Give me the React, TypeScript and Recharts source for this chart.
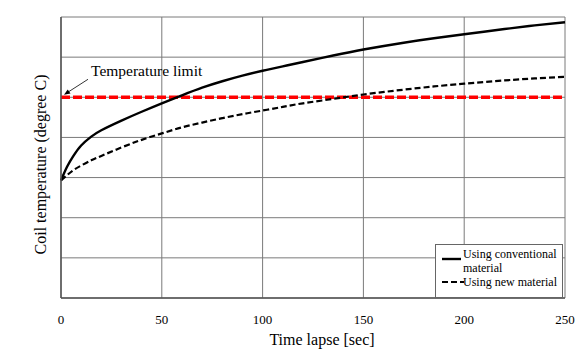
import React from "react";
import { LineChart, Line, XAxis, YAxis, CartesianGrid, ReferenceLine } from "recharts";

// time in seconds
const timeSec = [0, 3, 6, 10, 15, 20, 30, 40, 50, 60, 70, 80, 90, 100, 110, 120, 135, 150, 170, 185, 200, 220, 235, 250];
// coil temperature, in grid units (the axis carries no numbers)
const conventional = [2.93, 3.27, 3.53, 3.8, 4.02, 4.18, 4.42, 4.64, 4.85, 5.05, 5.24, 5.4, 5.54, 5.66, 5.77, 5.88, 6.04, 6.19, 6.36, 6.47, 6.57, 6.7, 6.79, 6.87];
const newMaterial = [2.93, 3.06, 3.18, 3.3, 3.43, 3.54, 3.75, 3.94, 4.1, 4.25, 4.37, 4.48, 4.58, 4.67, 4.76, 4.85, 4.96, 5.07, 5.19, 5.27, 5.34, 5.42, 5.47, 5.51];
const xTicks = [0, 50, 100, 150, 200, 250];
const yTicks = [0, 1, 2, 3, 4, 5, 6, 7];
const tempLimit = 5;

const data = timeSec.map((t, i) => ({ t, conv: conventional[i], newm: newMaterial[i] }));

const FONT = "'Liberation Serif', 'DejaVu Serif', serif";

function LimitLabel(props: any) {
  const vb = props.viewBox || {};
  const x0 = vb.x ?? 0;
  const y0 = vb.y ?? 0;
  return (
    <g>
      <text x={x0 + 30} y={y0 - 21} fontSize={15.5} fontFamily={FONT} fill="#000">
        Temperature limit
      </text>
      <line x1={x0 + 27} y1={y0 - 18} x2={x0 + 6} y2={y0 - 4.5} stroke="#000" strokeWidth={0.8} />
      <path d={`M ${x0 + 3} ${y0 - 2.5} l 6.5 -1.2 l -2.8 -4 z`} fill="#000" />
    </g>
  );
}

function XTitle(props: any) {
  const vb = props.viewBox || {};
  return (
    <text
      x={vb.x + vb.width / 2 + 9}
      y={vb.y + 41}
      textAnchor="middle"
      dominantBaseline="central"
      fontSize={16}
      fontFamily={FONT}
      fill="#000"
    >
      Time lapse [sec]
    </text>
  );
}

function YTitle(props: any) {
  const vb = props.viewBox || {};
  const cx = vb.x + 40;
  const cy = vb.y + vb.height / 2 + 7;
  return (
    <text
      x={cx}
      y={cy}
      transform={`rotate(-90 ${cx} ${cy})`}
      textAnchor="middle"
      dominantBaseline="central"
      fontSize={16}
      fontFamily={FONT}
      fill="#000"
    >
      Coil temperature (degree C)
    </text>
  );
}

export default function App() {
  return (
    <div style={{ position: "absolute", left: 0, top: 0, width: 580, height: 359, background: "#fff" }}>
      <LineChart
        width={580}
        height={359}
        data={data}
        margin={{ top: 17, right: 15, left: 0, bottom: 31 }}
      >
        <CartesianGrid stroke="#7a7a7a" strokeWidth={1} horizontalValues={yTicks} verticalValues={xTicks} />
        <XAxis
          dataKey="t"
          type="number"
          domain={[0, 250]}
          ticks={xTicks}
          tickLine={false}
          tickMargin={11}
          height={30}
          axisLine={{ stroke: "#555", strokeWidth: 1.5 }}
          tick={{ fontSize: 13, fontFamily: FONT, fill: "#000" }}
          label={<XTitle />}
        />
        <YAxis
          type="number"
          domain={[0, 7]}
          ticks={yTicks}
          width={61}
          tick={() => <g />}
          tickLine={false}
          axisLine={{ stroke: "#555", strokeWidth: 1.5 }}
          label={<YTitle />}
        />
        <ReferenceLine
          y={tempLimit}
          stroke="#ff0000"
          strokeWidth={3.5}
          strokeDasharray="9 3"
          label={<LimitLabel />}
        />
        <Line
          dataKey="newm"
          type="natural"
          stroke="#000"
          strokeWidth={2.2}
          strokeDasharray="6 3"
          dot={false}
          isAnimationActive={false}
        />
        <Line
          dataKey="conv"
          type="natural"
          stroke="#000"
          strokeWidth={2.4}
          dot={false}
          isAnimationActive={false}
        />
      </LineChart>
      <div
        style={{
          position: "absolute",
          left: 435,
          top: 244,
          width: 126,
          height: 52,
          border: "1px solid #666",
          background: "#fff",
          fontFamily: FONT,
          fontSize: 12,
          lineHeight: "14px",
          color: "#000",
        }}
      >
        <svg width={20} height={6} style={{ position: "absolute", left: 6, top: 11 }}>
          <line x1={0} y1={3} x2={19} y2={3} stroke="#000" strokeWidth={2.4} />
        </svg>
        <div style={{ position: "absolute", left: 27, top: 2, whiteSpace: "nowrap" }}>
          Using conventional
          <br />
          material
        </div>
        <svg width={22} height={6} style={{ position: "absolute", left: 6, top: 34 }}>
          <line x1={0} y1={3} x2={22} y2={3} stroke="#000" strokeWidth={2.2} strokeDasharray="6 3" />
        </svg>
        <div style={{ position: "absolute", left: 27, top: 30, whiteSpace: "nowrap" }}>
          Using new material
        </div>
      </div>
    </div>
  );
}
